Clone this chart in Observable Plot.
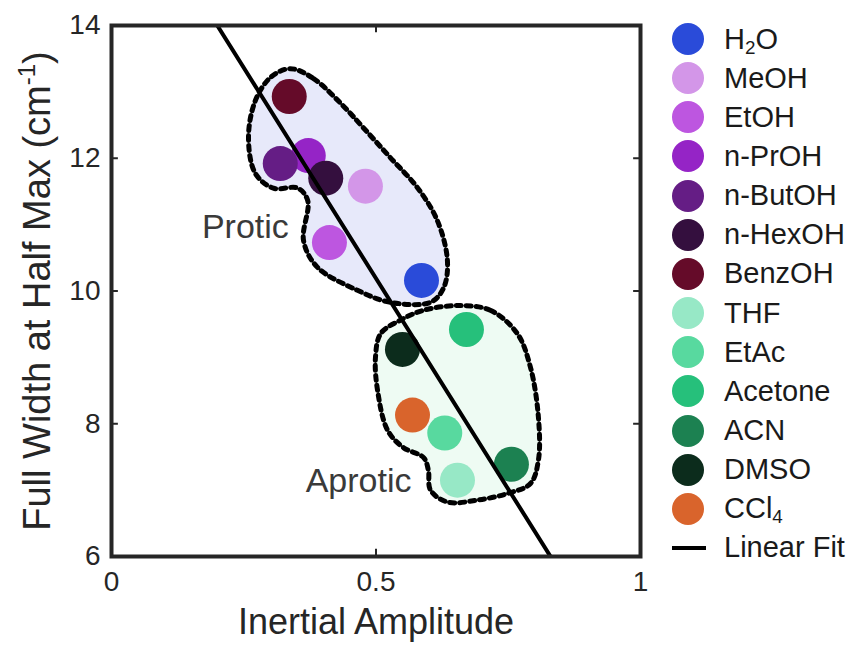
<!DOCTYPE html>
<html><head><meta charset="utf-8">
<script src="https://cdn.jsdelivr.net/npm/d3@7"></script>
<script src="https://cdn.jsdelivr.net/npm/@observablehq/plot@0.6"></script>
<style>
body{margin:0;background:#fff;}
#wrap{position:relative;width:849px;height:646px;overflow:hidden;font-family:"Liberation Sans",Arial,sans-serif;color:#1a1a1a;}
.row{position:absolute;left:672px;height:36px;display:flex;align-items:center;font-size:29px;line-height:1;white-space:nowrap;}
.sw{width:32px;height:32px;border-radius:50%;margin-right:20px;flex:none;}
.ln{width:34px;height:4px;background:#000;margin-right:18px;flex:none;}
sub{font-size:0.65em;vertical-align:-0.25em;line-height:0;}
</style></head><body><div id="wrap"></div>
<script>
// ---- data ----
const solvents = ["H2O","MeOH","EtOH","n-PrOH","n-ButOH","n-HexOH","BenzOH","THF","EtAc","Acetone","ACN","DMSO","CCl4"];
const legendLabels = ["H<sub>2</sub>O","MeOH","EtOH","n-PrOH","n-ButOH","n-HexOH","BenzOH","THF","EtAc","Acetone","ACN","DMSO","CCl<sub>4</sub>"];
const amplitude = [0.586,0.480,0.412,0.372,0.319,0.405,0.336,0.654,0.630,0.671,0.756,0.550,0.569];
const fwhm      = [10.16,11.58,10.73,12.04,11.92,11.70,12.93,7.15,7.86,9.42,7.39,9.12,8.13];
const colors = ["#2a4bd9","#d396e8","#bd56e0","#9524c6","#651d85","#340f3e","#650b29","#97e8c6","#58d99f","#26c07b","#1c8151","#0c2c1c","#d9642c"];
const fitSlope = -12.70;
const fitIntercept = 16.54;
const fitX = [0, 1];
const xTicks = [0, 0.5, 1];
const yTicks = [6, 8, 10, 12, 14];
const groupLabels = ["Protic","Aprotic"];
const groupLabelX = [0.253, 0.467];
const groupLabelY = [10.96, 7.13];
const proticX = [0.338,0.382,0.433,0.476,0.527,0.578,0.616,0.635,0.628,0.603,0.527,0.465,0.389,0.363,0.371,0.352,0.306,0.272,0.259,0.272,0.301];
const proticY = [13.35,13.20,12.83,12.46,12.01,11.56,11.06,10.46,10.05,9.83,9.83,10.01,10.36,10.76,11.36,11.55,11.55,11.77,12.31,12.87,13.22];
const aproticX = [0.654,0.716,0.767,0.792,0.807,0.807,0.792,0.749,0.692,0.635,0.603,0.599,0.590,0.552,0.522,0.503,0.499,0.509,0.546,0.590];
const aproticY = [9.78,9.71,9.36,8.85,8.10,7.45,7.10,6.95,6.85,6.82,7.00,7.30,7.49,7.64,7.90,8.50,9.00,9.36,9.56,9.71];
const xTitle = "Inertial Amplitude";
const yTitle = "Full Width at Half Max (cm-1)";

// ---- tables ----
const points = solvents.map((s,i)=>({solvent:s, x:amplitude[i], y:fwhm[i], color:colors[i]}));
const protic = proticX.map((x,i)=>({x, y:proticY[i]}));
const aprotic = aproticX.map((x,i)=>({x, y:aproticY[i]}));
const labels = groupLabels.map((t,i)=>({t, x:groupLabelX[i], y:groupLabelY[i]}));
const ink = "#262626";

const svg = Plot.plot({
  width: 849, height: 646,
  marginLeft: 111, marginRight: 209, marginTop: 25, marginBottom: 90,
  x: {domain: [0, 1]},
  y: {domain: [6, 14]},
  color: {type: "identity"},
  style: {fontFamily: '"Liberation Sans", Arial, sans-serif', color: ink, background: "transparent", overflow: "visible"},
  marks: [
    Plot.line(protic, {x: "x", y: "y", curve: "catmull-rom-closed", fill: "#e7e9fa", stroke: "#000", strokeWidth: 5, strokeDasharray: "5 5"}),
    Plot.line(aprotic, {x: "x", y: "y", curve: "catmull-rom-closed", fill: "#eefbf3", stroke: "#000", strokeWidth: 5, strokeDasharray: "5 5"}),
    Plot.text(labels, {x: "x", y: "y", text: "t", fontSize: 34, fill: "#3a3a3a"}),
    Plot.dot(points, {x: "x", y: "y", r: 17.5, fill: "color", stroke: "none"}),
    Plot.line(fitX, {x: d => d, y: d => fitIntercept + fitSlope * d, stroke: "#000", strokeWidth: 4, clip: true}),
    Plot.ruleX(xTicks, {x: d => d, y1: 6, y2: 6.11, stroke: ink, strokeWidth: 2}),
    Plot.ruleX(xTicks, {x: d => d, y1: 14, y2: 13.89, stroke: ink, strokeWidth: 2}),
    Plot.ruleY(yTicks, {y: d => d, x1: 0, x2: 0.013, stroke: ink, strokeWidth: 2}),
    Plot.ruleY(yTicks, {y: d => d, x1: 1, x2: 0.987, stroke: ink, strokeWidth: 2}),
    Plot.frame({stroke: ink, strokeWidth: 4}),
    Plot.axisX(xTicks, {tickSize: 0, tickPadding: 15, fontSize: 28, label: null, tickFormat: d => String(d)}),
    Plot.axisY(yTicks, {tickSize: 0, tickPadding: 11, fontSize: 28, label: null, tickFormat: d => String(d)}),
    Plot.text([xTitle], {text: d => d, frameAnchor: "bottom", textAnchor: "middle", dy: 77, fontSize: 36}),
    Plot.text([yTitle], {text: d => d, frameAnchor: "left", textAnchor: "middle", rotate: -90, dx: -74, fontSize: 38})
  ]
});

const wrap = document.getElementById("wrap");
wrap.appendChild(svg);

// superscript in y title
const yt = [...svg.querySelectorAll("text")].find(e => e.textContent === yTitle);
if (yt) {
  yt.innerHTML = 'Full Width at Half Max (cm<tspan font-size="24" dy="-15">-1</tspan><tspan dy="15">)</tspan>';
}

// legend
const rowY0 = 39, rowStep = 39.15;
legendLabels.forEach((lab, i) => {
  const row = document.createElement("div");
  row.className = "row";
  row.style.top = (rowY0 + i * rowStep - 18) + "px";
  row.innerHTML = `<span class="sw" style="background:${colors[i]}"></span><span>${lab}</span>`;
  wrap.appendChild(row);
});
const fitRow = document.createElement("div");
fitRow.className = "row";
fitRow.style.top = (rowY0 + legendLabels.length * rowStep - 18) + "px";
fitRow.innerHTML = `<span class="ln"></span><span>Linear Fit</span>`;
wrap.appendChild(fitRow);
</script></body></html>
